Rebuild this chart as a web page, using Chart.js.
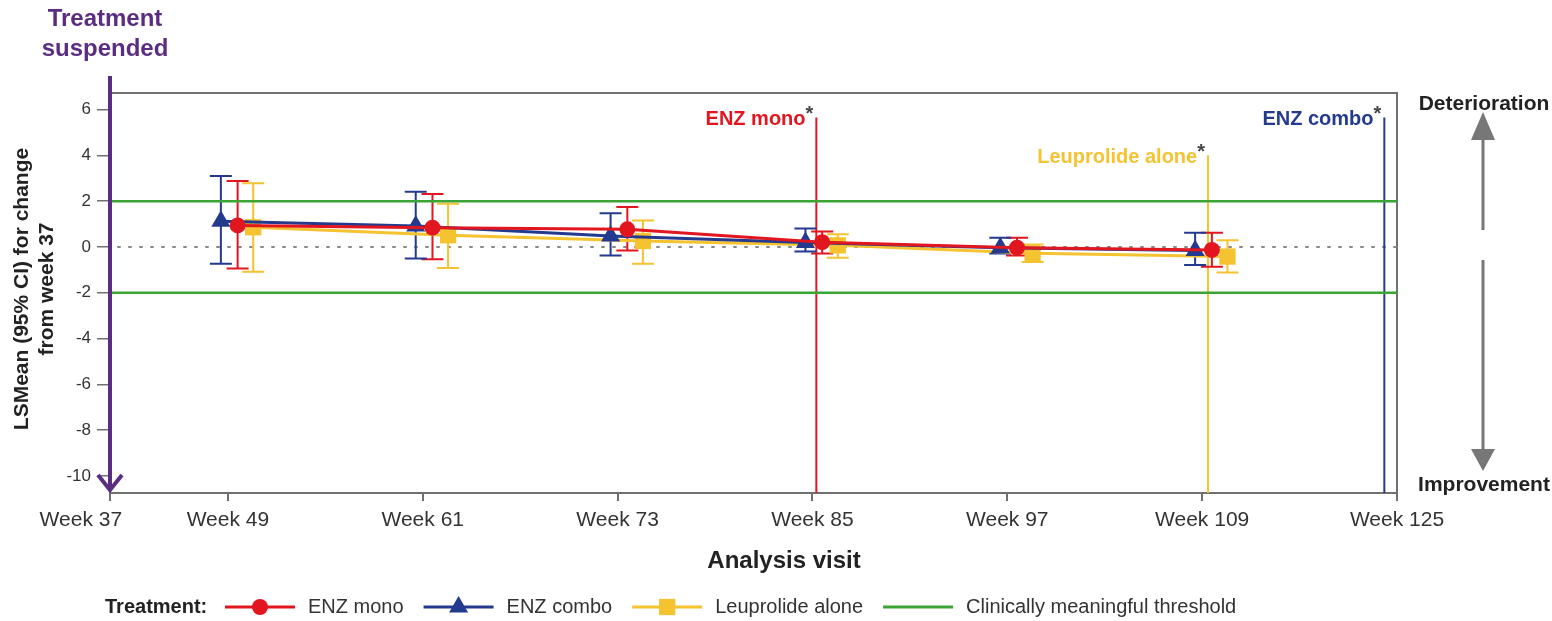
<!DOCTYPE html>
<html>
<head>
<meta charset="utf-8">
<script src="https://cdn.jsdelivr.net/npm/chart.js@4/dist/chart.umd.min.js"></script>
<style>
  html, body { margin: 0; padding: 0; background: #fff; }
  #wrap { width: 1552px; height: 621px; position: relative; }
</style>
</head>
<body>
<div id="wrap"><canvas id="chart"></canvas></div>
<script>
// x axis: week labels (Week 37 = suspension, Week 125 = end)
var weekLabels = ["Week 37", "Week 49", "Week 61", "Week 73", "Week 85", "Week 97", "Week 109", "Week 125"];
var yTicks = [-10, -8, -6, -4, -2, 0, 2, 4, 6];

// visits with estimates: Week 49 .. Week 109
var visits = [1, 2, 3, 4, 5, 6];

var enzMono = [0.94, 0.84, 0.77, 0.21, -0.03, -0.13];
var enzMonoLow = [-0.94, -0.54, -0.15, -0.29, -0.37, -0.86];
var enzMonoHigh = [2.88, 2.31, 1.74, 0.67, 0.40, 0.62];

var enzCombo = [1.12, 0.91, 0.48, 0.19, -0.03, -0.15];
var enzComboLow = [-0.73, -0.50, -0.37, -0.20, -0.29, -0.79];
var enzComboHigh = [3.10, 2.41, 1.47, 0.80, 0.40, 0.62];

var leuprolide = [0.86, 0.51, 0.26, 0.07, -0.28, -0.42];
var leuprolideLow = [-1.08, -0.92, -0.73, -0.47, -0.66, -1.12];
var leuprolideHigh = [2.78, 1.89, 1.16, 0.55, 0.11, 0.29];

var threshold = [2, -2];

// treatment end markers (visit index on x, top of line on y)
var endLabels = ["ENZ mono", "Leuprolide alone", "ENZ combo"];
var endVisit = [4.02, 6.03, 6.935];
var endTop = [5.65, 4.0, 5.65];

// axis layout: visit index -> axis position (first gap is shorter)
var tickPos = [0.395, 1, 2, 3, 4, 5, 6, 7];

var RED = "#e2161f", BLUE = "#233a8f", YELLOW = "#f5c230", GREEN = "#3aa535";
var PURPLE = "#5a2d82", GREY = "#777777";
var FONT = "'Liberation Sans', Arial, sans-serif";
var endColors = [RED, YELLOW, BLUE];

function pts(vals, shift) {
  return vals.map(function (v, i) { return { x: visits[i] + shift, y: v }; });
}

function drawMarker(ctx, style, x, y, r) {
  ctx.beginPath();
  if (style === "circle") {
    ctx.arc(x, y, r, 0, Math.PI * 2);
  } else if (style === "triangle") {
    ctx.moveTo(x, y - r);
    ctx.lineTo(x + r * 0.866, y + r * 0.5);
    ctx.lineTo(x - r * 0.866, y + r * 0.5);
    ctx.closePath();
  } else {
    var s = r * Math.SQRT1_2;
    ctx.rect(x - s, y - s, 2 * s, 2 * s);
  }
  ctx.fill();
}

var decor = {
  id: "decor",
  beforeDatasetsDraw: function (chart) {
    var ctx = chart.ctx, a = chart.chartArea, xs = chart.scales.x, ys = chart.scales.y;
    ctx.save();
    // frame
    ctx.strokeStyle = "#707070";
    ctx.lineWidth = 2;
    ctx.strokeRect(a.left, a.top, a.right - a.left, a.bottom - a.top);

    // dotted zero line
    var y0 = ys.getPixelForValue(0);
    ctx.setLineDash([2, 9]);
    ctx.lineCap = "round";
    ctx.strokeStyle = "#888";
    ctx.beginPath();
    ctx.moveTo(a.left + 8, y0);
    ctx.lineTo(a.right, y0);
    ctx.stroke();
    ctx.setLineDash([]);
    ctx.lineCap = "butt";

    // end of treatment lines
    for (var i = 0; i < endLabels.length; i++) {
      var x = xs.getPixelForValue(endVisit[i]);
      var yt = ys.getPixelForValue(endTop[i]);
      ctx.strokeStyle = endColors[i];
      ctx.lineWidth = 2;
      ctx.beginPath();
      ctx.moveTo(x, yt);
      ctx.lineTo(x, a.bottom);
      ctx.stroke();
      ctx.font = "bold 20px " + FONT;
      ctx.textAlign = "right";
      ctx.textBaseline = "middle";
      ctx.fillStyle = "#444";
      ctx.fillText("*", x - 3, yt - 3);
      var sw = ctx.measureText("*").width;
      ctx.fillStyle = endColors[i];
      ctx.fillText(endLabels[i], x - 3 - sw, yt + 2);
    }

    // error bars
    chart.data.datasets.forEach(function (ds, i) {
      if (!ds.low) return;
      var meta = chart.getDatasetMeta(i);
      ctx.strokeStyle = ds.borderColor;
      ctx.lineWidth = 2;
      meta.data.forEach(function (pt, j) {
        var yl = ys.getPixelForValue(ds.low[j]), yh = ys.getPixelForValue(ds.high[j]);
        ctx.beginPath();
        ctx.moveTo(pt.x, yl); ctx.lineTo(pt.x, yh);
        ctx.moveTo(pt.x - 11, yl); ctx.lineTo(pt.x + 11, yl);
        ctx.moveTo(pt.x - 11, yh); ctx.lineTo(pt.x + 11, yh);
        ctx.stroke();
      });
    });
    ctx.restore();
  },
  afterDraw: function (chart) {
    var ctx = chart.ctx, a = chart.chartArea;
    ctx.save();

    // purple "treatment suspended" axis with arrow
    ctx.strokeStyle = PURPLE;
    ctx.lineWidth = 4;
    ctx.beginPath();
    ctx.moveTo(a.left, 76);
    ctx.lineTo(a.left, a.bottom - 3);
    ctx.stroke();
    ctx.lineJoin = "miter";
    ctx.beginPath();
    ctx.moveTo(a.left - 12, a.bottom - 18);
    ctx.lineTo(a.left, a.bottom - 3);
    ctx.lineTo(a.left + 12, a.bottom - 18);
    ctx.stroke();

    ctx.fillStyle = PURPLE;
    ctx.font = "bold 24px " + FONT;
    ctx.textAlign = "center";
    ctx.textBaseline = "middle";
    ctx.fillText("Treatment", 105, 19);
    ctx.fillText("suspended", 105, 49);

    // y title
    ctx.fillStyle = "#222";
    ctx.font = "bold 21px " + FONT;
    ctx.save();
    ctx.translate(22, 289);
    ctx.rotate(-Math.PI / 2);
    ctx.fillText("LSMean (95% CI) for change", 0, 0);
    ctx.fillText("from week 37", 0, 25);
    ctx.restore();

    // x title
    ctx.font = "bold 24px " + FONT;
    ctx.fillText("Analysis visit", 784, 561);

    // deterioration / improvement arrows
    ctx.font = "bold 21px " + FONT;
    ctx.fillText("Deterioration", 1484, 104);
    ctx.fillText("Improvement", 1484, 485);
    ctx.strokeStyle = GREY;
    ctx.fillStyle = GREY;
    ctx.lineWidth = 3;
    ctx.beginPath();
    ctx.moveTo(1483, 138); ctx.lineTo(1483, 230);
    ctx.moveTo(1483, 260); ctx.lineTo(1483, 452);
    ctx.stroke();
    ctx.beginPath();
    ctx.moveTo(1483, 112); ctx.lineTo(1495, 140); ctx.lineTo(1471, 140); ctx.closePath();
    ctx.fill();
    ctx.beginPath();
    ctx.moveTo(1483, 471); ctx.lineTo(1495, 449); ctx.lineTo(1471, 449); ctx.closePath();
    ctx.fill();

    // legend
    var ly = 607;
    ctx.textAlign = "left";
    ctx.fillStyle = "#222";
    ctx.font = "bold 20px " + FONT;
    ctx.fillText("Treatment:", 105, ly);
    var x = 225;
    ctx.font = "20px " + FONT;
    var items = chart.data.datasets.filter(function (d) { return d.legendLabel; });
    items.forEach(function (d) {
      ctx.strokeStyle = d.borderColor;
      ctx.lineWidth = 3;
      ctx.beginPath();
      ctx.moveTo(x, ly); ctx.lineTo(x + 70, ly);
      ctx.stroke();
      if (d.pointRadius > 0) {
        ctx.fillStyle = d.borderColor;
        drawMarker(ctx, d.pointStyle, x + 35, ly, d.pointRadius);
      }
      ctx.fillStyle = "#333";
      ctx.fillText(d.legendLabel, x + 83, ly);
      x += 83 + ctx.measureText(d.legendLabel).width + 20;
    });
    ctx.restore();
  }
};

var ctx = document.getElementById("chart").getContext("2d");

var chart = new Chart(ctx, {
  type: "line",
  data: {
    datasets: [
      {
        legendLabel: "ENZ mono",
        data: pts(enzMono, 0.05),
        low: enzMonoLow, high: enzMonoHigh,
        borderColor: RED, backgroundColor: RED,
        borderWidth: 3, pointStyle: "circle", pointRadius: 8, pointBorderWidth: 0,
        order: 1
      },
      {
        legendLabel: "ENZ combo",
        data: pts(enzCombo, -0.036),
        low: enzComboLow, high: enzComboHigh,
        borderColor: BLUE, backgroundColor: BLUE,
        borderWidth: 3, pointStyle: "triangle", pointRadius: 11, pointBorderWidth: 0,
        order: 2
      },
      {
        legendLabel: "Leuprolide alone",
        data: pts(leuprolide, 0.13),
        low: leuprolideLow, high: leuprolideHigh,
        borderColor: YELLOW, backgroundColor: YELLOW,
        borderWidth: 3, pointStyle: "rect", pointRadius: 11.5, pointBorderWidth: 0,
        order: 3
      },
      {
        legendLabel: "Clinically meaningful threshold",
        data: [{ x: tickPos[0], y: threshold[0] }, { x: tickPos[7], y: threshold[0] }],
        borderColor: GREEN, borderWidth: 2.5, pointRadius: 0, order: 10
      },
      {
        data: [{ x: tickPos[0], y: threshold[1] }, { x: tickPos[7], y: threshold[1] }],
        borderColor: GREEN, borderWidth: 2.5, pointRadius: 0, order: 10
      }
    ]
  },
  options: {
    responsive: true,
    maintainAspectRatio: false,
    animation: false,
    layout: { padding: { left: 0, top: 93, right: 155, bottom: 0 } },
    plugins: { legend: { display: false }, tooltip: { enabled: false } },
    scales: {
      x: {
        type: "linear",
        min: tickPos[0],
        max: tickPos[7],
        afterBuildTicks: function (s) { s.ticks = tickPos.map(function (v) { return { value: v }; }); },
        afterFit: function (s) { s.height = 128; },
        ticks: {
          autoSkip: false, maxRotation: 0, padding: 7, color: "#333",
          font: { family: FONT, size: 21 },
          // first label sits left of its tick, padded with trailing spaces
          callback: function (v, i) { return i === 0 ? weekLabels[i] + "          " : weekLabels[i]; }
        },
        grid: { drawOnChartArea: false, tickLength: 8, color: "#707070", lineWidth: 2 },
        border: { display: true, color: "#707070", width: 2 }
      },
      y: {
        min: -10.74,
        max: 6.72,
        afterBuildTicks: function (s) { s.ticks = yTicks.map(function (v) { return { value: v }; }); },
        afterFit: function (s) { s.width = 110; },
        ticks: { padding: 6, color: "#333", font: { family: FONT, size: 17 } },
        grid: { drawOnChartArea: false, tickLength: 13, color: "#707070", lineWidth: 1.5 },
        border: { display: false }
      }
    }
  },
  plugins: [decor]
});
</script>
</body>
</html>
